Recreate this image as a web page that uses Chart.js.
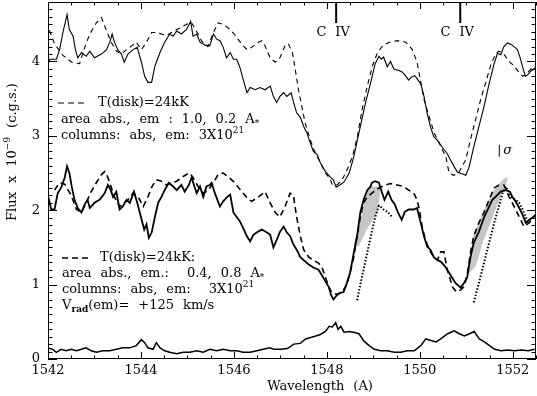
<!DOCTYPE html>
<html>
<head>
<meta charset="utf-8">
<script src="https://cdn.jsdelivr.net/npm/chart.js@4.4.1/dist/chart.umd.min.js"></script>
<style>
  html, body { margin: 0; padding: 0; background: #fff; }
</style>
</head>
<body>
<canvas id="spec" width="537" height="396"></canvas>
<script>
// Tick values
const xTicks = [1542, 1544, 1546, 1548, 1550, 1552];
const yTicks = [0, 1, 2, 3, 4];

// Upper panel: observed spectrum (solid) and model (dashed)
const wlTopObs = [1542.00, 1542.04, 1542.18, 1542.25, 1542.32, 1542.41, 1542.46, 1542.54, 1542.59, 1542.64,
  1542.72, 1542.82, 1542.90, 1543.00, 1543.15, 1543.26, 1543.33, 1543.38, 1543.43, 1543.50,
  1543.58, 1543.64, 1543.72, 1543.83, 1543.92, 1544.01, 1544.08, 1544.15, 1544.23, 1544.30,
  1544.41, 1544.51, 1544.62, 1544.69, 1544.77, 1544.87, 1544.98, 1545.07, 1545.12, 1545.20,
  1545.27, 1545.38, 1545.48, 1545.56, 1545.63, 1545.70, 1545.77, 1545.84, 1545.92, 1545.99,
  1546.06, 1546.13, 1546.20, 1546.28, 1546.35, 1546.46, 1546.56, 1546.67, 1546.78, 1546.85,
  1546.92, 1546.99, 1547.07, 1547.14, 1547.23, 1547.28, 1547.35, 1547.43, 1547.50, 1547.57,
  1547.64, 1547.71, 1547.79, 1547.86, 1547.97, 1548.07, 1548.14, 1548.20, 1548.28, 1548.37,
  1548.48, 1548.58, 1548.69, 1548.83, 1548.94, 1549.04, 1549.12, 1549.17, 1549.22, 1549.30,
  1549.37, 1549.44, 1549.55, 1549.62, 1549.69, 1549.76, 1549.82, 1549.89, 1549.94, 1550.02,
  1550.09, 1550.16, 1550.23, 1550.30, 1550.38, 1550.48, 1550.59, 1550.70, 1550.81, 1550.91,
  1550.99, 1551.06, 1551.16, 1551.27, 1551.38, 1551.49, 1551.60, 1551.67, 1551.74, 1551.81,
  1551.89, 1551.96, 1552.03, 1552.10, 1552.15, 1552.21, 1552.27, 1552.32, 1552.39, 1552.50];
const fluxTopObs = [3.96, 4.03, 4.03, 4.16, 4.39, 4.63, 4.43, 4.34, 4.16, 4.05,
  4.12, 4.07, 4.14, 4.05, 4.10, 4.16, 4.26, 4.37, 4.26, 4.16,
  4.10, 3.99, 4.10, 4.16, 4.19, 3.99, 3.80, 3.72, 3.72, 3.94,
  4.12, 4.26, 4.37, 4.34, 4.41, 4.37, 4.43, 4.54, 4.34, 4.37,
  4.26, 4.22, 4.21, 4.37, 4.30, 4.28, 4.19, 4.05, 4.12, 4.03,
  4.03, 3.92, 3.76, 3.58, 3.65, 3.62, 3.65, 3.62, 3.67, 3.53,
  3.45, 3.53, 3.58, 3.53, 3.58, 3.46, 3.31, 3.25, 3.13, 3.04,
  2.91, 2.79, 2.75, 2.64, 2.52, 2.45, 2.41, 2.31, 2.34, 2.38,
  2.50, 2.72, 3.04, 3.44, 3.71, 3.97, 4.07, 4.03, 4.06, 3.93,
  4.00, 3.90, 3.88, 3.86, 3.81, 3.75, 3.79, 3.81, 3.77, 3.70,
  3.53, 3.30, 3.12, 2.99, 2.94, 2.85, 2.76, 2.63, 2.51, 2.49,
  2.47, 2.58, 2.85, 3.12, 3.39, 3.70, 3.97, 4.11, 4.09, 4.20,
  4.25, 4.23, 4.20, 4.16, 4.07, 3.93, 3.80, 3.82, 3.87, 3.92];

const wlTopMod = [1542.03, 1542.14, 1542.31, 1542.51, 1542.68, 1542.79, 1542.90, 1543.04, 1543.15, 1543.26,
  1543.36, 1543.47, 1543.58, 1543.69, 1543.80, 1543.90, 1544.01, 1544.12, 1544.23, 1544.33,
  1544.44, 1544.55, 1544.66, 1544.77, 1544.87, 1544.98, 1545.09, 1545.20, 1545.31, 1545.44,
  1545.56, 1545.66, 1545.77, 1545.88, 1546.02, 1546.17, 1546.28, 1546.38, 1546.53, 1546.60,
  1546.67, 1546.78, 1546.89, 1546.99, 1547.10, 1547.17, 1547.26, 1547.32, 1547.39, 1547.46,
  1547.53, 1547.64, 1547.75, 1547.86, 1547.97, 1548.07, 1548.12, 1548.22, 1548.33, 1548.44,
  1548.55, 1548.66, 1548.76, 1548.87, 1548.98, 1549.09, 1549.20, 1549.34, 1549.52, 1549.70,
  1549.84, 1549.94, 1550.01, 1550.09, 1550.20, 1550.31, 1550.45, 1550.56, 1550.63, 1550.73,
  1550.84, 1550.99, 1551.09, 1551.20, 1551.31, 1551.42, 1551.53, 1551.63, 1551.70, 1551.81,
  1551.92, 1552.03, 1552.14, 1552.21, 1552.32, 1552.42, 1552.50];
const fluxTopMod = [4.42, 4.24, 4.09, 3.99, 3.97, 4.19, 4.37, 4.52, 4.59, 4.41,
  4.26, 4.14, 4.10, 4.16, 4.21, 4.26, 4.16, 4.26, 4.39, 4.39,
  4.37, 4.35, 4.39, 4.43, 4.46, 4.50, 4.52, 4.40, 4.27, 4.20,
  4.39, 4.52, 4.50, 4.45, 4.36, 4.23, 4.16, 4.19, 4.26, 4.28,
  4.21, 4.05, 3.99, 4.05, 4.21, 4.24, 4.12, 3.89, 3.62, 3.40,
  3.18, 2.95, 2.77, 2.64, 2.50, 2.42, 2.34, 2.34, 2.41, 2.55,
  2.72, 3.00, 3.36, 3.67, 3.94, 4.12, 4.21, 4.26, 4.28, 4.26,
  4.16, 3.99, 3.76, 3.49, 3.26, 3.04, 2.86, 2.72, 2.50, 2.47,
  2.51, 2.68, 2.95, 3.22, 3.49, 3.72, 3.96, 4.10, 4.14, 4.10,
  4.00, 3.94, 3.85, 3.80, 3.85, 3.92, 3.94];

// Lower panel: observed spectrum (solid), model (dashed), dotted profiles
const wlMidObs = [1542.01, 1542.07, 1542.14, 1542.21, 1542.28, 1542.36, 1542.41, 1542.46, 1542.51, 1542.57,
  1542.64, 1542.72, 1542.79, 1542.85, 1542.90, 1543.00, 1543.11, 1543.22, 1543.29, 1543.35,
  1543.40, 1543.47, 1543.54, 1543.61, 1543.69, 1543.76, 1543.85, 1543.92, 1544.00, 1544.07,
  1544.12, 1544.17, 1544.23, 1544.30, 1544.37, 1544.44, 1544.51, 1544.60, 1544.69, 1544.77,
  1544.87, 1544.94, 1545.03, 1545.09, 1545.15, 1545.20, 1545.27, 1545.34, 1545.41, 1545.48,
  1545.52, 1545.59, 1545.70, 1545.77, 1545.84, 1545.92, 1545.99, 1546.06, 1546.13, 1546.20,
  1546.28, 1546.35, 1546.42, 1546.49, 1546.60, 1546.71, 1546.78, 1546.85, 1546.92, 1546.99,
  1547.07, 1547.14, 1547.21, 1547.28, 1547.35, 1547.43, 1547.50, 1547.61, 1547.71, 1547.82,
  1547.89, 1547.97, 1548.04, 1548.09, 1548.14, 1548.22, 1548.29, 1548.36, 1548.43, 1548.50,
  1548.58, 1548.65, 1548.72, 1548.79, 1548.87, 1548.94, 1548.97, 1549.04, 1549.12, 1549.19,
  1549.24, 1549.32, 1549.39, 1549.46, 1549.53, 1549.61, 1549.68, 1549.76, 1549.87, 1549.94,
  1550.02, 1550.09, 1550.16, 1550.23, 1550.30, 1550.38, 1550.45, 1550.55, 1550.63, 1550.70,
  1550.77, 1550.88, 1550.95, 1551.02, 1551.09, 1551.16, 1551.27, 1551.38, 1551.49, 1551.56,
  1551.63, 1551.74, 1551.85, 1551.94, 1551.99, 1552.06, 1552.14, 1552.21, 1552.28, 1552.35,
  1552.42, 1552.50];
const fluxMidObs = [2.17, 2.01, 2.01, 2.23, 2.30, 2.44, 2.59, 2.50, 2.32, 2.14,
  2.03, 1.97, 2.08, 2.14, 2.03, 2.10, 2.14, 2.23, 2.34, 2.27,
  2.18, 2.25, 2.01, 2.05, 2.14, 2.10, 2.25, 2.10, 1.91, 1.74,
  1.81, 1.63, 1.70, 1.91, 2.10, 2.18, 2.27, 2.37, 2.32, 2.27,
  2.34, 2.25, 2.34, 2.44, 2.32, 2.23, 2.32, 2.18, 2.32, 2.34,
  2.37, 2.23, 2.05, 2.12, 2.17, 2.21, 1.97, 1.91, 1.85, 1.76,
  1.65, 1.58, 1.67, 1.70, 1.74, 1.70, 1.67, 1.50, 1.60, 1.71,
  1.78, 1.70, 1.65, 1.54, 1.47, 1.37, 1.33, 1.27, 1.23, 1.20,
  1.13, 1.04, 0.97, 0.86, 0.80, 0.86, 0.89, 0.90, 1.02, 1.16,
  1.43, 1.65, 1.97, 2.14, 2.27, 2.32, 2.37, 2.39, 2.37, 2.23,
  2.14, 2.25, 2.14, 2.08, 1.97, 1.87, 1.98, 2.01, 2.01, 2.03,
  1.83, 1.65, 1.51, 1.47, 1.37, 1.33, 1.31, 1.24, 1.16, 1.09,
  1.02, 0.96, 1.02, 1.10, 1.37, 1.56, 1.71, 1.90, 2.05, 2.14,
  2.18, 2.25, 2.27, 2.25, 2.18, 2.12, 2.03, 1.94, 1.83, 1.87,
  1.90, 1.94];

const wlMidMod = [1542.14, 1542.25, 1542.36, 1542.50, 1542.61, 1542.72, 1542.82, 1542.93, 1543.04, 1543.15,
  1543.22, 1543.29, 1543.43, 1543.54, 1543.72, 1543.83, 1543.94, 1544.05, 1544.15, 1544.24,
  1544.33, 1544.44, 1544.55, 1544.66, 1544.77, 1544.87, 1544.98, 1545.05, 1545.12, 1545.23,
  1545.34, 1545.45, 1545.56, 1545.66, 1545.77, 1545.88, 1546.02, 1546.17, 1546.28, 1546.38,
  1546.53, 1546.67, 1546.78, 1546.89, 1546.99, 1547.10, 1547.21, 1547.28, 1547.35, 1547.43,
  1547.50, 1547.61, 1547.71, 1547.82, 1547.89, 1547.97, 1548.04, 1548.11, 1548.22, 1548.33,
  1548.43, 1548.50, 1548.58, 1548.65, 1548.72, 1548.79, 1548.87, 1548.97, 1549.12, 1549.26,
  1549.37, 1549.51, 1549.65, 1549.76, 1549.87, 1549.94, 1549.99, 1550.05, 1550.11, 1550.16,
  1550.23, 1550.30, 1550.38, 1550.45, 1550.52, 1550.59, 1550.66, 1550.71, 1550.79, 1550.88,
  1550.95, 1551.02, 1551.09, 1551.16, 1551.27, 1551.38, 1551.49, 1551.60, 1551.70, 1551.81,
  1551.92, 1552.03, 1552.14, 1552.24, 1552.35, 1552.46];
const fluxMidMod = [2.27, 2.37, 2.35, 2.20, 2.01, 1.97, 2.10, 2.25, 2.37, 2.48,
  2.52, 2.44, 2.18, 2.05, 2.14, 2.23, 2.18, 2.05, 2.18, 2.32,
  2.41, 2.39, 2.34, 2.37, 2.39, 2.44, 2.48, 2.50, 2.44, 2.32,
  2.23, 2.27, 2.37, 2.48, 2.50, 2.45, 2.37, 2.25, 2.17, 2.12,
  2.18, 2.25, 2.10, 1.97, 1.91, 2.05, 2.23, 2.20, 1.91, 1.65,
  1.47, 1.37, 1.33, 1.29, 1.24, 1.10, 0.97, 0.89, 0.87, 0.90,
  1.00, 1.16, 1.37, 1.65, 1.91, 2.10, 2.18, 2.23, 2.30, 2.34,
  2.36, 2.34, 2.32, 2.27, 2.23, 2.14, 2.01, 1.78, 1.63, 1.54,
  1.44, 1.37, 1.33, 1.44, 1.44, 1.20, 1.06, 0.96, 0.90, 0.93,
  0.97, 1.13, 1.43, 1.65, 1.83, 1.97, 2.14, 2.30, 2.34, 2.34,
  2.18, 2.05, 1.91, 1.78, 1.83, 1.91];

const wlDot1 = [1548.65, 1548.76, 1548.87, 1548.98, 1549.05, 1549.12, 1549.15, 1549.22, 1549.30, 1549.37, 1549.40];
const fluxDot1 = [0.79, 1.12, 1.43, 1.75, 1.93, 2.06, 2.05, 2.01, 1.98, 1.94, 1.90];
const wlDot2 = [1551.16, 1551.27, 1551.38, 1551.49, 1551.60, 1551.70, 1551.78, 1551.85, 1551.96, 1552.06,
  1552.14, 1552.21, 1552.32, 1552.42, 1552.50];
const fluxDot2 = [0.76, 1.02, 1.29, 1.56, 1.83, 2.05, 2.23, 2.32, 2.18, 2.14,
  2.10, 2.01, 1.85, 1.90, 1.94];

// Grey bands (upper / lower edges)
const wlBand1Up = [1548.57, 1548.67, 1548.76, 1548.84, 1548.92, 1549.15];
const fluxBand1Up = [1.52, 1.75, 1.97, 2.19, 2.32, 2.32];
const wlBand1Low = [1548.57, 1548.69, 1548.87, 1549.09, 1549.15];
const fluxBand1Low = [1.52, 1.52, 1.75, 1.97, 2.25];
const wlBand2Up = [1551.05, 1551.10, 1551.15, 1551.24, 1551.38, 1551.56, 1551.78, 1551.89];
const fluxBand2Up = [1.15, 1.45, 1.66, 1.78, 2.01, 2.24, 2.41, 2.45];
const wlBand2Low = [1551.05, 1551.20, 1551.35, 1551.49, 1551.63, 1551.78, 1551.89];
const fluxBand2Low = [1.15, 1.24, 1.56, 1.78, 2.01, 2.24, 2.41];

// Bottom: noise spectrum
const wlNoise = [1542.00, 1542.10, 1542.18, 1542.28, 1542.39, 1542.50, 1542.61, 1542.72, 1542.82, 1542.93,
  1543.04, 1543.18, 1543.33, 1543.47, 1543.61, 1543.76, 1543.90, 1544.01, 1544.08, 1544.15,
  1544.26, 1544.33, 1544.41, 1544.51, 1544.62, 1544.77, 1544.91, 1545.05, 1545.20, 1545.34,
  1545.48, 1545.63, 1545.77, 1545.92, 1546.06, 1546.20, 1546.35, 1546.49, 1546.63, 1546.78,
  1546.86, 1547.00, 1547.15, 1547.29, 1547.43, 1547.54, 1547.65, 1547.76, 1547.86, 1547.97,
  1548.05, 1548.12, 1548.19, 1548.24, 1548.30, 1548.37, 1548.48, 1548.58, 1548.69, 1548.80,
  1548.91, 1549.02, 1549.16, 1549.30, 1549.45, 1549.59, 1549.73, 1549.88, 1550.02, 1550.13,
  1550.24, 1550.35, 1550.45, 1550.60, 1550.74, 1550.85, 1550.96, 1551.07, 1551.17, 1551.28,
  1551.39, 1551.50, 1551.61, 1551.75, 1551.89, 1552.04, 1552.18, 1552.33, 1552.47];
const fluxNoise = [0.15, 0.13, 0.09, 0.13, 0.11, 0.13, 0.11, 0.13, 0.15, 0.11,
  0.09, 0.11, 0.11, 0.13, 0.15, 0.15, 0.18, 0.26, 0.22, 0.15,
  0.13, 0.22, 0.15, 0.11, 0.09, 0.07, 0.09, 0.09, 0.11, 0.09,
  0.13, 0.11, 0.13, 0.11, 0.11, 0.09, 0.09, 0.11, 0.13, 0.15,
  0.13, 0.13, 0.14, 0.20, 0.21, 0.27, 0.29, 0.31, 0.33, 0.37,
  0.44, 0.43, 0.49, 0.40, 0.44, 0.36, 0.37, 0.36, 0.34, 0.24,
  0.18, 0.13, 0.11, 0.11, 0.09, 0.09, 0.11, 0.11, 0.18, 0.27,
  0.25, 0.23, 0.27, 0.34, 0.38, 0.34, 0.31, 0.34, 0.37, 0.27,
  0.23, 0.18, 0.13, 0.11, 0.12, 0.11, 0.12, 0.11, 0.13];

// Markers
const civLines = [1548.20, 1550.87];
const sigmaBar = { wl: 1551.71, lo: 2.72, hi: 2.88 };

const FONT = '"DejaVu Serif", serif';
const SPACE = 9; // the original plot font has wide blanks

function pts(xs, ys) {
    return xs.map((x, i) => ({x: x, y: ys[i]}));
}

function lineSet(xs, ys, width, dash, extra) {
    return Object.assign({
        data: pts(xs, ys),
        borderColor: '#000',
        borderWidth: width,
        borderDash: dash || [],
        pointRadius: 0,
        tension: 0,
        fill: false
    }, extra || {});
}

// draws a run of text pieces with sub/superscripts, returns end x
function drawParts(ctx, parts, x, y, measureOnly) {
    let cx = x;
    parts.forEach(p => {
        const small = p.sup || p.sub;
        ctx.font = (p.bold ? 'bold ' : '') + (small ? 9 : 13) + 'px ' + FONT;
        const dy = p.sup ? -5 : (p.sub ? 4 : 0);
        p.t.split(' ').forEach((word, i) => {
            if (i > 0) cx += SPACE;
            if (!measureOnly && word) ctx.fillText(word, cx, y + dy);
            cx += ctx.measureText(word).width;
        });
    });
    return cx;
}

function dashSample(ctx, x, y, width) {
    ctx.save();
    ctx.lineWidth = width;
    ctx.setLineDash([6, 4]);
    ctx.beginPath();
    ctx.moveTo(x, y);
    ctx.lineTo(x + 26, y);
    ctx.stroke();
    ctx.restore();
}

const decorPlugin = {
    id: 'decor',
    afterDraw(chart) {
        const ctx = chart.ctx;
        const a = chart.chartArea;
        const xs = chart.scales.x;
        const ys = chart.scales.y;
        ctx.save();
        ctx.strokeStyle = '#000';
        ctx.fillStyle = '#000';
        ctx.lineWidth = 1;

        // frame
        ctx.strokeRect(a.left + 0.5, a.top + 0.5, a.right - a.left - 1, a.bottom - a.top - 1);

        // ticks, all pointing inward
        ctx.beginPath();
        for (let v = 1542; v <= 1552.5001; v += 0.5) {
            const px = Math.round(xs.getPixelForValue(v)) + 0.5;
            const len = Math.abs(v % 2) < 1e-6 ? 7 : 3.5;
            ctx.moveTo(px, a.bottom); ctx.lineTo(px, a.bottom - len);
            ctx.moveTo(px, a.top); ctx.lineTo(px, a.top + len);
        }
        for (let i = 0; i <= 48; i++) {
            const v = i / 10;
            const py = Math.round(ys.getPixelForValue(v)) + 0.5;
            const len = i % 10 === 0 ? 9 : 4.5;
            ctx.moveTo(a.left, py); ctx.lineTo(a.left + len, py);
            ctx.moveTo(a.right, py); ctx.lineTo(a.right - len, py);
        }
        ctx.stroke();

        ctx.textAlign = 'left';
        ctx.textBaseline = 'middle';

        // C IV markers
        ctx.lineWidth = 2;
        civLines.forEach(w => {
            const px = xs.getPixelForValue(w);
            ctx.beginPath();
            ctx.moveTo(px, a.top);
            ctx.lineTo(px, a.top + 21);
            ctx.stroke();
            const parts = [{t: 'C IV'}];
            const tw = drawParts(ctx, parts, 0, 0, true);
            drawParts(ctx, parts, px - 3 - tw / 2, a.top + 31);
        });

        // sigma bar
        ctx.lineWidth = 1;
        const sx = xs.getPixelForValue(sigmaBar.wl);
        ctx.beginPath();
        ctx.moveTo(sx, ys.getPixelForValue(sigmaBar.lo));
        ctx.lineTo(sx, ys.getPixelForValue(sigmaBar.hi));
        ctx.stroke();
        ctx.font = 'italic 13px ' + FONT;
        ctx.fillText('σ', sx + 4, ys.getPixelForValue((sigmaBar.lo + sigmaBar.hi) / 2));

        // legends
        const lx = a.left + 13;
        dashSample(ctx, lx - 3, a.top + 101, 1.1);
        drawParts(ctx, [{t: 'T(disk)=24kK'}], lx + 37, a.top + 101);
        drawParts(ctx, [{t: 'area abs., em : 1.0, 0.2 A'}, {t: '*', sub: true}], lx, a.top + 118);
        drawParts(ctx, [{t: 'columns: abs, em: 3X10'}, {t: '21', sup: true}], lx, a.top + 134);

        dashSample(ctx, lx + 1, a.top + 256, 1.6);
        drawParts(ctx, [{t: 'T(disk)=24kK:'}], lx + 39, a.top + 256);
        drawParts(ctx, [{t: 'area abs., em.:  0.4, 0.8 A'}, {t: '*', sub: true}], lx + 1, a.top + 272);
        drawParts(ctx, [{t: 'columns: abs, em:  3X10'}, {t: '21', sup: true}], lx + 1, a.top + 288);
        drawParts(ctx, [{t: 'V'}, {t: 'rad', sub: true, bold: true}, {t: '(em)= +125 km/s'}], lx + 1, a.top + 304);

        // axis titles
        const xParts = [{t: 'Wavelength (A)'}];
        const xw = drawParts(ctx, xParts, 0, 0, true);
        drawParts(ctx, xParts, 320 - xw / 2, 387);

        const yParts = [{t: 'Flux x 10'}, {t: '\u22129', sup: true}, {t: ' (c.g.s.)'}];
        ctx.save();
        ctx.translate(13, 152);
        ctx.rotate(-Math.PI / 2);
        const yw = drawParts(ctx, yParts, 0, 0, true);
        drawParts(ctx, yParts, -yw / 2, 0);
        ctx.restore();

        ctx.restore();
    }
};

const greyFill = '#c6c6c6';

new Chart(document.getElementById('spec'), {
    type: 'line',
    data: {
        datasets: [
            lineSet(wlTopObs, fluxTopObs, 1.1),
            lineSet(wlTopMod, fluxTopMod, 1.1, [5, 4]),
            lineSet(wlMidObs, fluxMidObs, 1.8),
            lineSet(wlMidMod, fluxMidMod, 1.6, [6, 4]),
            lineSet(wlDot1, fluxDot1, 2, [1.5, 1.8]),
            lineSet(wlDot2, fluxDot2, 2, [1.5, 1.8]),
            lineSet(wlNoise, fluxNoise, 1.5),
            lineSet(wlBand1Up, fluxBand1Up, 0, [], {fill: '+1', backgroundColor: greyFill}),
            lineSet(wlBand1Low, fluxBand1Low, 0),
            lineSet(wlBand2Up, fluxBand2Up, 0, [], {fill: '+1', backgroundColor: greyFill}),
            lineSet(wlBand2Low, fluxBand2Low, 0)
        ]
    },
    options: {
        responsive: false,
        animation: false,
        devicePixelRatio: 1,
        layout: {padding: {top: 2, right: 1, left: 0, bottom: 0}},
        plugins: {
            legend: {display: false},
            tooltip: {enabled: false},
            filler: {drawTime: 'beforeDatasetsDraw'}
        },
        scales: {
            x: {
                type: 'linear',
                min: 1542,
                max: 1552.5,
                grid: {display: false, drawTicks: false},
                border: {display: false},
                afterBuildTicks: s => { s.ticks = xTicks.map(v => ({value: v})); },
                afterFit: s => {
                    s.height = 37;
                    s.paddingLeft = 0;
                    s.paddingRight = 0;
                },
                ticks: {
                    padding: 4,
                    color: '#000',
                    font: {family: FONT, size: 13},
                    maxRotation: 0,
                    callback: v => String(v)
                }
            },
            y: {
                min: 0,
                max: 4.8,
                grid: {display: false, drawTicks: false},
                border: {display: false},
                afterBuildTicks: s => { s.ticks = yTicks.map(v => ({value: v})); },
                afterFit: s => {
                    s.width = 48;
                    s.paddingTop = 0;
                    s.paddingBottom = 0;
                },
                ticks: {
                    padding: 8,
                    color: '#000',
                    font: {family: FONT, size: 13},
                    callback: v => String(v)
                }
            }
        }
    },
    plugins: [decorPlugin]
});
</script>
</body>
</html>
